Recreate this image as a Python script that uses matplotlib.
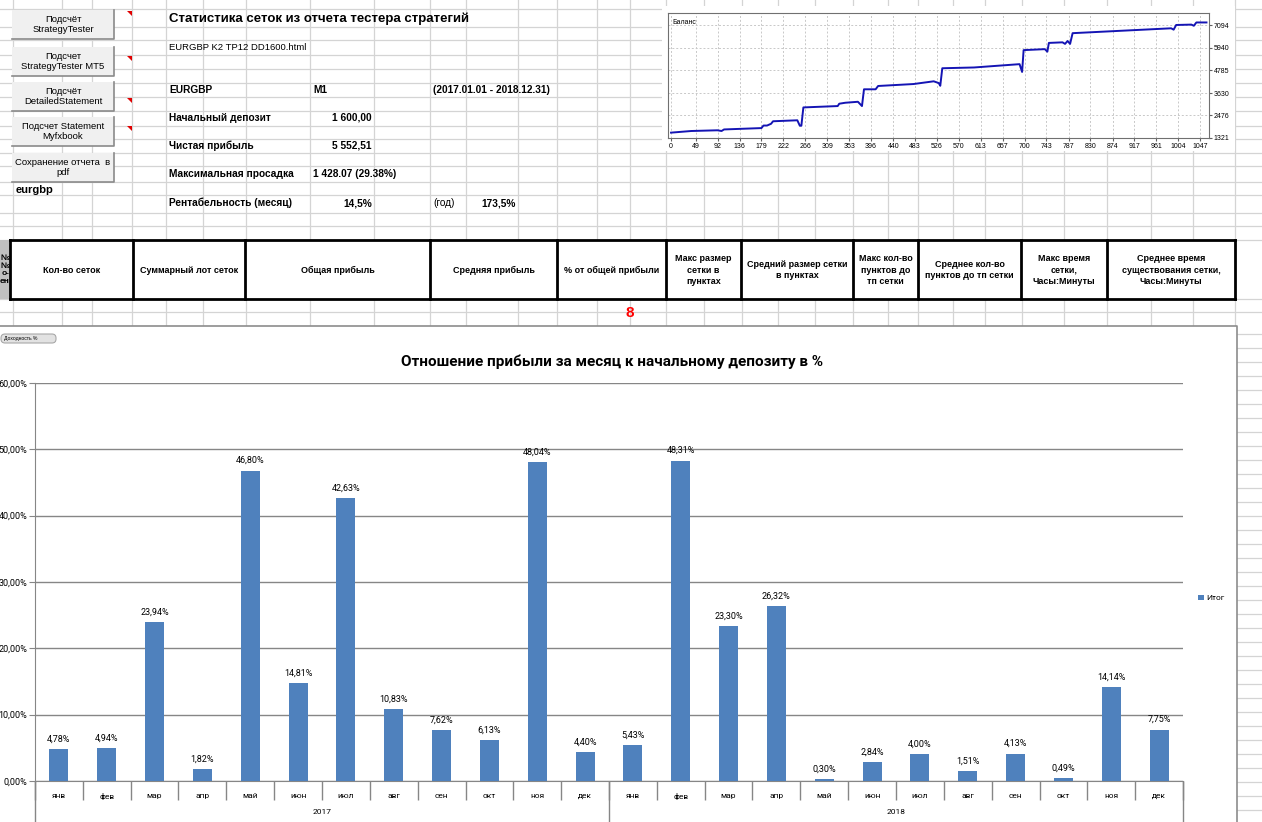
import matplotlib
matplotlib.use("Agg")
import numpy as np
import matplotlib.pyplot as plt
from matplotlib.patches import Rectangle, FancyBboxPatch, Polygon
from matplotlib.transforms import blended_transform_factory

W, H = 1262, 822

# --- data ---
months = ['янв', 'фев', 'мар', 'апр', 'май', 'июн', 'июл', 'авг', 'сен', 'окт', 'ноя', 'дек']
years = ['2017', '2018']
profit_2017 = [4.78, 4.94, 23.94, 1.82, 46.80, 14.81, 42.63, 10.83, 7.62, 6.13, 48.04, 4.40]
profit_2018 = [5.43, 48.31, 23.30, 26.32, 0.30, 2.84, 4.00, 1.51, 4.13, 0.49, 14.14, 7.75]
pct_ticks = [0, 10, 20, 30, 40, 50, 60]

bal_x = [0, 40, 92, 100, 105, 179, 183, 190, 198, 202,
         250, 255, 258, 262, 330, 333, 345, 370, 378, 382,
         405, 410, 480, 520, 530, 533, 537, 600, 690, 695,
         698, 740, 745, 748, 775, 780, 785, 790, 795, 990,
         995, 1000, 1030, 1035, 1040, 1060]
bal_y = [1596, 1680, 1717, 1680, 1760, 1830, 1960, 1960, 2050, 2180,
         2230, 1950, 1950, 2890, 2960, 3080, 3130, 3180, 2960, 3820,
         3820, 3990, 4090, 4230, 4140, 4000, 4900, 4940, 5110, 4710,
         5830, 5880, 5750, 6200, 6230, 6150, 6300, 6150, 6700, 6950,
         6880, 7120, 7140, 7080, 7250, 7250]
bal_xticks = [0, 49, 92, 136, 179, 222, 266, 309, 353, 396, 440, 483, 526,
              570, 613, 657, 700, 743, 787, 830, 874, 917, 961, 1004, 1047]
bal_yticks = [1321, 2476, 3630, 4785, 5940, 7094]

buttons = ['Подсчёт\nStrategyTester', 'Подсчет\nStrategyTester MT5',
           'Подсчёт\nDetailedStatement', 'Подсчет Statement\nMyfxbook',
           'Сохранение отчета  в\npdf']
summary_rows = [('Начальный депозит', '1 600,00'),
                ('Чистая прибыль', '5 552,51')]
table_headers = ['Кол-во сеток', 'Суммарный лот сеток', 'Общая прибыль', 'Средняя прибыль',
                 '% от общей прибыли', 'Макс размер\nсетки в\nпунктах',
                 'Средний размер сетки\nв пунктах', 'Макс кол-во\nпунктов до\nтп сетки',
                 'Среднее кол-во\nпунктов до тп сетки', 'Макс время\nсетки,\nЧасы:Минуты',
                 'Среднее время\nсуществования сетки,\nЧасы:Минуты']

plt.rcParams['font.family'] = ['Liberation Sans', 'DejaVu Sans']
CHART_FONT = ['Roboto', 'DejaVu Sans']
BAR_COLOR = '#4f81bd'
GRID = '#d4d4d4'


def ax_rect(l, t, r, b):
    return [l / W, 1 - b / H, (r - l) / W, (b - t) / H]


fig = plt.figure(figsize=(W / 100, H / 100), dpi=100)
bg = fig.add_axes([0, 0, 1, 1])
bg.set_xlim(0, W)
bg.set_ylim(H, 0)
bg.axis('off')

# spreadsheet grid
col_lines = [13, 62, 92, 132, 166, 203, 246, 310, 374, 430, 466, 518, 557, 597, 630,
             666, 704, 742, 778, 815, 853, 888, 918, 953, 985, 1022, 1064, 1107, 1151, 1193, 1235]
row_lines = [9, 27, 40, 55, 69, 83, 97, 111, 126, 139, 153, 166, 182, 195, 213, 226, 240, 299, 312]
for x in col_lines:
    bg.plot([x, x], [0, 326], color=GRID, lw=0.9, zorder=1)
for y in row_lines:
    bg.plot([0, W], [y, y], color=GRID, lw=0.9, zorder=1)
for y in range(334, H, 14):
    bg.plot([1237, W], [y, y], color=GRID, lw=0.9, zorder=1)

# buttons on the left
for i, (top, label) in enumerate(zip([10, 47, 82, 117, 153], buttons)):
    bg.add_patch(Rectangle((12, top), 102, 29, facecolor='#f0f0f0', edgecolor='none', zorder=3))
    bg.plot([12, 114, 114], [top + 29, top + 29, top], color='#8a8a8a', lw=1.2, zorder=4)
    bg.text(63, top + 14.5, label, ha='center', va='center', fontsize=6.8,
            linespacing=1.05, zorder=5)
for ty in [11, 56, 98, 126]:
    bg.add_patch(Polygon([(127, ty), (132, ty), (132, ty + 5)], closed=True,
                         facecolor='#e00000', edgecolor='none', zorder=5))
bg.text(16, 190, 'eurgbp', fontsize=8, fontweight='bold', va='center', zorder=5)

# report header block
bg.text(169, 19, 'Статистика сеток из отчета тестера стратегий', fontsize=9.5,
        fontweight='bold', va='center', zorder=5)
bg.text(169, 47, 'EURGBP K2 TP12 DD1600.html', fontsize=6.8, va='center', zorder=5)
bg.text(169, 90, 'EURGBP', fontsize=7.3, fontweight='bold', va='center', zorder=5)
bg.text(313, 90, 'M1', fontsize=7.3, fontweight='bold', va='center', zorder=5)
bg.text(433, 90, '(2017.01.01 - 2018.12.31)', fontsize=7.3, fontweight='bold', va='center', zorder=5)
for y, (name, val) in zip([118, 146], summary_rows):
    bg.text(169, y, name, fontsize=7.3, fontweight='bold', va='center', zorder=5)
    bg.text(372, y, val, fontsize=7.3, fontweight='bold', va='center', ha='right', zorder=5)
bg.text(169, 174, 'Максимальная просадка', fontsize=7.3, fontweight='bold', va='center', zorder=5)
bg.text(313, 174, '1 428.07 (29.38%)', fontsize=7.3, fontweight='bold', va='center', zorder=5)
bg.text(169, 203, 'Рентабельность (месяц)', fontsize=7.3, fontweight='bold', va='center', zorder=5)
bg.text(372, 203, '14,5%', fontsize=7.3, fontweight='bold', va='center', ha='right', zorder=5)
bg.text(433, 203, '(год)', fontsize=7.3, va='center', zorder=5)
bg.text(516, 203, '173,5%', fontsize=7.3, fontweight='bold', va='center', ha='right', zorder=5)

# header row of the grid table
tbl_cols = [10, 133, 245, 430, 557, 666, 741, 853, 918, 1021, 1107, 1235]
bg.add_patch(Rectangle((0, 240), 10, 59, facecolor='#c0c0c0', edgecolor='none', zorder=3))
bg.text(10, 270, '№\n№\nо-\nен', fontsize=6, fontweight='bold', ha='right', va='center',
        linespacing=1.1, zorder=4)
bg.add_patch(Rectangle((10, 240), 1225, 59, facecolor='white', edgecolor='none', zorder=3))
bg.plot([tbl_cols[0], tbl_cols[-1]], [240, 240], color='black', lw=2, zorder=4)
bg.plot([tbl_cols[0], tbl_cols[-1]], [299, 299], color='black', lw=2, zorder=4)
for x in tbl_cols:
    bg.plot([x, x], [240, 299], color='black', lw=2, zorder=4)
for l, r, txt in zip(tbl_cols[:-1], tbl_cols[1:], table_headers):
    bg.text((l + r) / 2, 270, txt, fontsize=6.5, fontweight='bold', ha='center', va='center',
            linespacing=1.3, zorder=5)
bg.text(630, 313, '8', fontsize=11, fontweight='bold', color='#ff0000', ha='center', va='center',
        zorder=5)

# chart area of the monthly chart
bg.add_patch(Rectangle((0, 326), 1237, H - 326, facecolor='white', edgecolor='none', zorder=2))
bg.plot([0, 1237, 1237], [326, 326, H], color='#8c8c8c', lw=1.2, zorder=3)
bg.add_patch(FancyBboxPatch((1, 334), 55, 9, boxstyle='round,pad=0,rounding_size=4',
                            facecolor='#e2e2e2', edgecolor='#a8a8a8', lw=0.8, zorder=4))
bg.text(4, 338.5, 'Доходность %', fontsize=3.6, va='center', zorder=5)

# white area of the balance chart
bg.add_patch(Rectangle((662, 6), 573, 145, facecolor='white', edgecolor='none', zorder=2))

# --- monthly profit chart ---
values = profit_2017 + profit_2018
labels = months * len(years)
x = np.arange(len(values))

ax = fig.add_axes(ax_rect(35, 383, 1183, 781))
ax.set_facecolor('none')
bars = ax.bar(x, values, width=0.4, color=BAR_COLOR, label='Итог', zorder=3)
ax.set_xlim(-0.5, len(values) - 0.5)
ax.set_ylim(0, 60)
ax.set_yticks(pct_ticks)
ax.set_yticklabels([f'{v:.2f}'.replace('.', ',') + '%' for v in pct_ticks],
                   fontsize=6.5, family=CHART_FONT)
ax.yaxis.grid(True, color='#868686', lw=1)
ax.set_axisbelow(True)
for s in ['top', 'right']:
    ax.spines[s].set_visible(False)
ax.spines['left'].set_color('#868686')
ax.spines['bottom'].set_color('#868686')
ax.tick_params(axis='y', length=4, color='#868686', pad=1.5)
ax.set_xticks(np.arange(-0.5, len(values)))
ax.set_xticklabels([])
ax.tick_params(axis='x', length=14, color='#868686', width=1)
ax.bar_label(bars, labels=[f'{v:.2f}'.replace('.', ',') + '%' for v in values],
             padding=4, fontsize=6.5, family=CHART_FONT)

tr = blended_transform_factory(ax.transData, ax.transAxes)
for i, m in enumerate(labels):
    ax.text(i, -15 / 398, m, transform=tr, ha='center', va='center', fontsize=6,
            family=CHART_FONT, clip_on=False)
for k, yr in enumerate(years):
    mid = k * 12 + 5.5
    ax.text(mid, -31 / 398, yr, transform=tr, ha='center', va='center', fontsize=6,
            family=CHART_FONT, clip_on=False)
ax.vlines([-0.5, 11.5, len(values) - 0.5], -41 / 398, 0, transform=tr, color='#868686',
          lw=1, clip_on=False)

ax.legend(loc='center left', bbox_to_anchor=(1198 / W, 1 - 598 / H), bbox_transform=fig.transFigure,
          frameon=False, prop={'family': CHART_FONT, 'size': 6}, handlelength=0.7,
          handleheight=0.7, handletextpad=0.3, borderpad=0, borderaxespad=0)
fig.text(612 / W, 1 - 362 / H, 'Отношение прибыли за месяц к начальному депозиту в %',
         ha='center', va='center', fontsize=11, fontweight='bold', family=CHART_FONT)

# --- balance chart ---
bax = fig.add_axes(ax_rect(668, 13, 1209, 138))
bax.plot(bal_x, bal_y, color='#1414b4', lw=1.4)
bax.set_xlim(-6, 1065)
bax.set_ylim(1321, 7735)
bax.set_xticks(bal_xticks)
bax.set_yticks(bal_yticks)
bax.yaxis.tick_right()
bax.tick_params(labelsize=5, length=2, pad=1.5, color='#606060')
bax.grid(True, color='#c8c8c8', lw=0.7, ls=(0, (2, 2)))
for s in bax.spines.values():
    s.set_color('#707070')
bax.text(0.008, 0.95, 'Баланс', transform=bax.transAxes, fontsize=5, va='top')

fig.savefig('out.png', dpi=100)
